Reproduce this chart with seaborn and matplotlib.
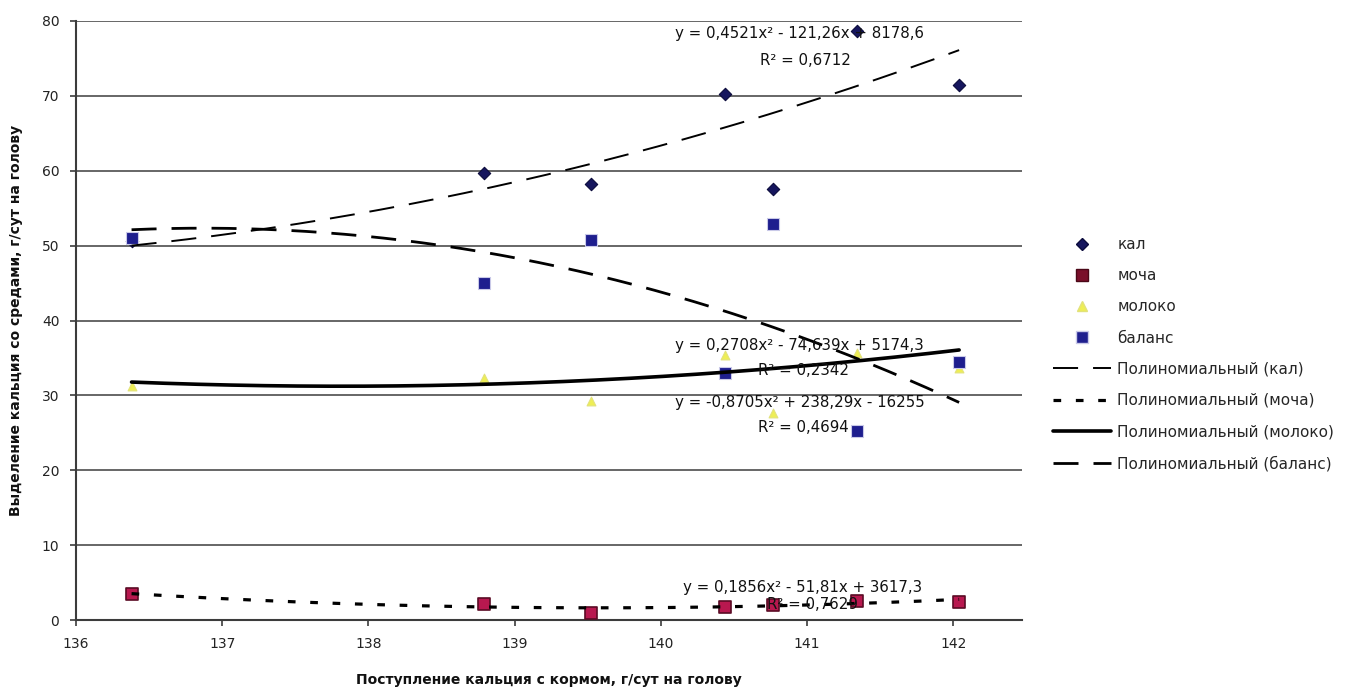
import numpy as np
import matplotlib
matplotlib.use("Agg")
import matplotlib.pyplot as plt
from matplotlib.lines import Line2D
import seaborn as sns

# Calcium intake with feed, g/day per head
intake = [136.38, 138.79, 139.52, 140.44, 140.77, 141.34, 142.04]
# Calcium excreted by route, g/day per head
kal = [50.6, 59.7, 58.2, 70.3, 57.5, 78.6, 71.4]
mocha = [3.5, 2.2, 1.0, 1.8, 2.0, 2.5, 2.4]
moloko = [31.2, 32.3, 29.3, 35.4, 27.6, 35.6, 33.6]
balans = [51.0, 45.0, 50.7, 33.0, 52.9, 25.2, 34.4]

# Quadratic trend coefficients (a, b, c) and R^2 as printed on the chart
kal_fit, kal_r2 = [0.4521, -121.26, 8178.6], "0,6712"
mocha_fit, mocha_r2 = [0.1856, -51.81, 3617.3], "0,7629"
moloko_fit, moloko_r2 = [0.2708, -74.639, 5174.3], "0,2342"
balans_fit, balans_r2 = [-0.8705, 238.29, -16255], "0,4694"

series_names = ["кал", "моча", "молоко", "баланс"]
trend_names = ["Полиномиальный (кал)", "Полиномиальный (моча)",
               "Полиномиальный (молоко)", "Полиномиальный (баланс)"]
x_ticks = [136, 137, 138, 139, 140, 141, 142]
y_ticks = [0, 10, 20, 30, 40, 50, 60, 70, 80]

sns.set_style("white")
plt.rcParams["font.family"] = ["DejaVu Sans"]

fig = plt.figure(figsize=(13.46, 6.89), dpi=100)
ax = fig.add_axes([76 / 1346, 1 - 620 / 689, 946 / 1346, 599 / 689])

# scatter markers
sty = {
    "кал": dict(marker="D", s=40, color="#16165e", edgecolor="#0b0b3c", linewidth=0.8),
    "моча": dict(marker="s", s=80, color="#b8184f", edgecolor="#5a0b24", linewidth=1.2),
    "молоко": dict(marker="^", s=40, color="#eeee55", edgecolor="#e2e27a", linewidth=0.8),
    "баланс": dict(marker="s", s=80, color="#1e1e8e", edgecolor="#c9c9e8", linewidth=0.8),
}
for name, vals in zip(series_names, [kal, mocha, moloko, balans]):
    sns.scatterplot(x=intake, y=vals, ax=ax, legend=False, zorder=3, **sty[name])

# trend lines
xs = np.linspace(min(intake), max(intake), 300)
line_sty = {
    "кал": dict(lw=1.4, linestyle=(0, (12.9, 7.7))),
    "моча": dict(lw=2.3, linestyle=(0, (2.4, 4.6))),
    "молоко": dict(lw=2.6, linestyle="-"),
    "баланс": dict(lw=2.0, linestyle=(0, (9.0, 5.4))),
}
for name, coef in zip(series_names, [kal_fit, mocha_fit, moloko_fit, balans_fit]):
    sns.lineplot(x=xs, y=np.polyval(coef, xs), ax=ax, color="black",
                 legend=False, zorder=4, **line_sty[name])

# trend equations
def eq_text(c):
    a, b, k = c
    def f(v):
        return f"{abs(v):g}".replace(".", ",")
    sa = ("-" if a < 0 else "") + f(a)
    sb = ("- " if b < 0 else "+ ") + f(b)
    sk = ("- " if k < 0 else "+ ") + f(k)
    return f"y = {sa}x² {sb}x {sk}"

def px_x(p):
    return 136 + (p - 76) / 146.3

def px_y(p):
    return (620 - p) / 7.49

labels = [
    (kal_fit, kal_r2, 675, 33, 760, 60),
    (moloko_fit, moloko_r2, 675, 345, 758, 370),
    (balans_fit, balans_r2, 675, 402, 758, 427),
    (mocha_fit, mocha_r2, 683, 587, 767, 604),
]
for coef, r2, ex, ey, rx, ry in labels:
    ax.text(px_x(ex), px_y(ey), eq_text(coef), ha="left", va="center",
            fontsize=10.8, color="#111111", zorder=5)
    ax.text(px_x(rx), px_y(ry), f"R² = {r2}", ha="left", va="center",
            fontsize=10.8, color="#111111", zorder=5)

ax.set_xlim(136, 142.47)
ax.set_ylim(0, 80)
ax.set_xticks(x_ticks)
ax.set_yticks(y_ticks)
ax.yaxis.grid(True, color="#5a5a5a", lw=1.3, zorder=0)
ax.xaxis.grid(False)
ax.set_axisbelow(True)
for side in ["top", "right"]:
    ax.spines[side].set_visible(False)
for side in ["left", "bottom"]:
    ax.spines[side].set_color("#3c3c3c")
    ax.spines[side].set_linewidth(1.5)
ax.tick_params(axis="both", direction="out", length=4, width=1.2, color="#3c3c3c",
               labelsize=10, labelcolor="#222222", pad=8)
ax.tick_params(left=True, bottom=True)

ax.set_xlabel("Поступление кальция с кормом, г/сут на голову", fontsize=10,
              fontweight="bold", color="#111111", labelpad=16)
ax.set_ylabel("Выделение кальция со средами, г/сут на голову", fontsize=10,
              fontweight="bold", color="#111111")
ax.yaxis.set_label_coords(-0.056, 0.5)

handles = [
    Line2D([], [], ls="none", marker="D", ms=6.5, color="#16165e", mec="#0b0b3c"),
    Line2D([], [], ls="none", marker="s", ms=8, color="#7a0f2a", mec="#4a0717"),
    Line2D([], [], ls="none", marker="^", ms=6.5, color="#eeee55", mec="#e2e27a"),
    Line2D([], [], ls="none", marker="s", ms=8, color="#1e1e8e", mec="#c9c9e8"),
    Line2D([], [], color="black", **line_sty["кал"]),
    Line2D([], [], color="black", **line_sty["моча"]),
    Line2D([], [], color="black", **line_sty["молоко"]),
    Line2D([], [], color="black", **line_sty["баланс"]),
]
fig.legend(handles, series_names + trend_names, loc="upper left",
           bbox_to_anchor=(1053 / 1346, 1 - 237 / 689), frameon=False,
           fontsize=11, handlelength=3.8, handletextpad=0.4,
           labelspacing=1.06, borderpad=0, borderaxespad=0)

fig.savefig("out.png", dpi=100)
